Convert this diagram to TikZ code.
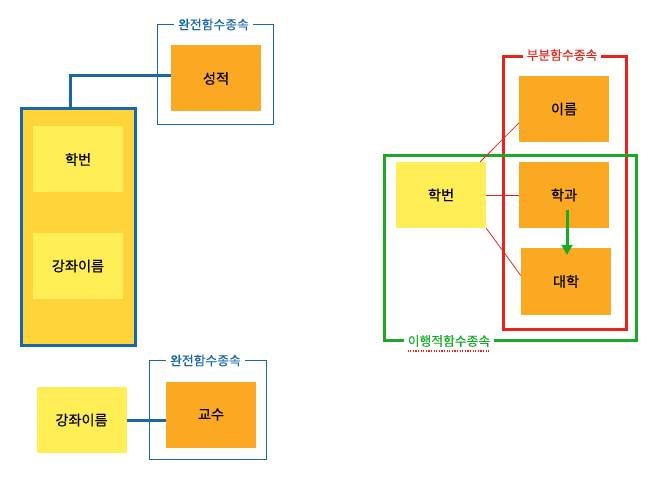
\documentclass[tikz,border=0pt]{standalone}
\usepackage{fontspec}
\setmainfont{Noto Sans CJK KR}[FakeBold=0.4]
\usetikzlibrary{arrows.meta,positioning,calc}
\definecolor{keyorange}{HTML}{FBA823}
\definecolor{keyyellow}{HTML}{FFEE55}
\definecolor{keygold}{HTML}{FFD43A}
\definecolor{depblue}{HTML}{1767AA}
\definecolor{depred}{HTML}{E8251B}
\definecolor{depgreen}{HTML}{1AAA2A}

\tikzset{
  attr/.style={minimum width=90pt, minimum height=66pt, inner sep=0pt, font=\fontsize{14.2}{16}\selectfont},
  dep/.style={attr, fill=keyorange},
  det/.style={attr, fill=keyyellow},
  deplabel/.style={fill=white, inner xsep=4pt, inner ysep=1pt, font=\fontsize{12.8}{14}\selectfont}
}

\begin{document}
\begin{tikzpicture}[x=1pt, y=-1pt]
  \useasboundingbox (0,0) rectangle (671,486);

  % full dependency, top
  \draw[depblue, line width=1pt] (157.5,24.5) rectangle (273.5,124.5);
  \node[deplabel, text=depblue] (full1) at (213.5,24.5) {완전함수종속};
  \node[dep] (grade) at (216,78.5) {성적};
  \node[draw=depblue, line width=3pt, fill=keygold, minimum width=114pt, minimum height=237pt] (pkey) at (78.5,227) {};
  \node[det] (sid1) at (78,159.5) {학번};
  \node[det] (course1) at (78,266) {강좌이름};
  \draw[depblue, line width=3pt] ([xshift=-8.5pt]pkey.north) |- ([yshift=2.5pt]grade.west);

  % full dependency, bottom
  \draw[depblue, line width=1pt] (149.5,360.5) rectangle (266.5,459.5);
  \node[deplabel, text=depblue] (full2) at (205.5,360.5) {완전함수종속};
  \node[det] (course2) at (81.5,420) {강좌이름};
  \node[dep] (prof) at (211,414.5) {교수};
  \draw[depblue, line width=3pt] (course2.east) -- (prof.west |- course2.east);

  % partial and transitive dependency
  \draw[depred, line width=3pt] (503.5,56.5) rectangle (626.5,329.5);
  \node[deplabel, text=depred] (part) at (562,55) {부분함수종속};
  \draw[depgreen, line width=3pt] (384.5,155.5) rectangle (636.5,340.5);
  \node[deplabel, text=depgreen] (trans) at (449,341) {이행적함수종속};
  \draw[depred, line width=1.2pt, dash pattern=on 1.3pt off 1.3pt] ([xshift=4pt,yshift=-3pt]trans.south west) -- ([xshift=-4pt,yshift=-3pt]trans.south east);

  \node[dep] (name) at (564,109) {이름};
  \node[dep] (dept) at (564,195) {학과};
  \node[dep, minimum height=67pt] (univ) at (566,281.5) {대학};
  \node[det] (sid2) at (441,195) {학번};

  \draw[depred, line width=0.8pt] ([xshift=-6pt]sid2.north east) -- ([yshift=-14pt]name.west);
  \draw[depred, line width=0.8pt] (sid2.east) -- (dept.west);
  \draw[depred, line width=0.8pt] (sid2.south east) -- ([yshift=6pt]univ.west);
  \draw[depgreen, line width=3pt, -{Triangle[width=11pt,length=10pt]}] ([xshift=3pt,yshift=-15pt]dept.center) -- ([xshift=1pt,yshift=-7pt]univ.north);
\end{tikzpicture}
\end{document}
